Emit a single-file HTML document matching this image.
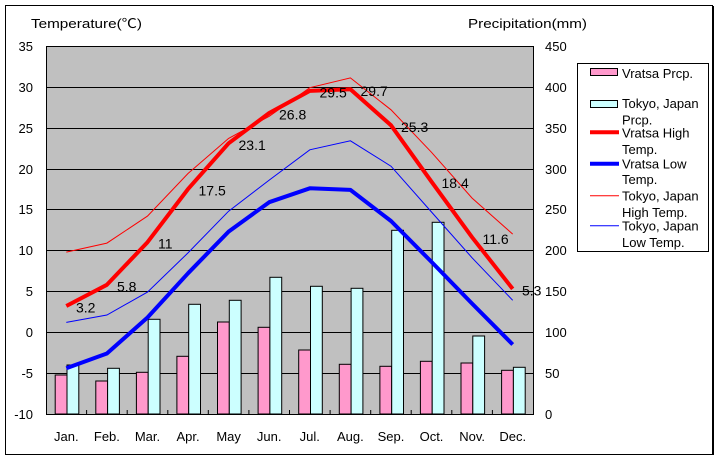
<!DOCTYPE html>
<html>
<head>
<meta charset="utf-8">
<style>
html,body{margin:0;padding:0;background:#fff;}
svg{display:block;}
text{font-family:"Liberation Sans","Noto Sans CJK JP",sans-serif;fill:#000;}
</style>
</head>
<body>
<svg width="720" height="460" viewBox="0 0 720 460" xmlns="http://www.w3.org/2000/svg">
<rect x="0" y="0" width="720" height="460" fill="#fff"/>
<rect x="5.5" y="5.5" width="707" height="449" fill="none" stroke="#000" stroke-width="1"/>
<line x1="713.5" y1="6" x2="713.5" y2="455" stroke="#000" stroke-width="1"/>

<!-- titles -->
<text x="31" y="28" font-size="13" textLength="111" lengthAdjust="spacingAndGlyphs">Temperature(℃)</text>
<text x="468" y="28" font-size="13" textLength="119" lengthAdjust="spacingAndGlyphs">Precipitation(mm)</text>

<!-- plot area -->
<rect x="46.5" y="46.5" width="487" height="368" fill="#C0C0C0" stroke="#000" stroke-width="1"/>
<g stroke="#000" stroke-width="1">
<line x1="46" y1="87.5" x2="533" y2="87.5"/>
<line x1="46" y1="128.5" x2="533" y2="128.5"/>
<line x1="46" y1="169.5" x2="533" y2="169.5"/>
<line x1="46" y1="209.5" x2="533" y2="209.5"/>
<line x1="46" y1="250.5" x2="533" y2="250.5"/>
<line x1="46" y1="291.5" x2="533" y2="291.5"/>
<line x1="46" y1="332.5" x2="533" y2="332.5"/>
<line x1="46" y1="373.5" x2="533" y2="373.5"/>
</g>

<!-- bars -->
<g stroke="#000" stroke-width="1">
<rect x="55.2" y="375" width="11.8" height="39" fill="#FF99CC"/>
<rect x="67" y="365" width="11.8" height="49" fill="#CCFFFF"/>
<rect x="95.8" y="381" width="11.8" height="33" fill="#FF99CC"/>
<rect x="107.6" y="368.3" width="11.8" height="45.7" fill="#CCFFFF"/>
<rect x="136.4" y="372.3" width="11.8" height="41.7" fill="#FF99CC"/>
<rect x="148.2" y="319.3" width="11.8" height="94.7" fill="#CCFFFF"/>
<rect x="176.9" y="356.3" width="11.8" height="57.7" fill="#FF99CC"/>
<rect x="188.7" y="304.3" width="11.8" height="109.7" fill="#CCFFFF"/>
<rect x="217.5" y="322" width="11.8" height="92" fill="#FF99CC"/>
<rect x="229.3" y="300.3" width="11.8" height="113.7" fill="#CCFFFF"/>
<rect x="258.1" y="327.3" width="11.8" height="86.7" fill="#FF99CC"/>
<rect x="269.9" y="277.3" width="11.8" height="136.7" fill="#CCFFFF"/>
<rect x="298.7" y="350" width="11.8" height="64" fill="#FF99CC"/>
<rect x="310.5" y="286.3" width="11.8" height="127.7" fill="#CCFFFF"/>
<rect x="339.3" y="364.3" width="11.8" height="49.7" fill="#FF99CC"/>
<rect x="351.1" y="288.3" width="11.8" height="125.7" fill="#CCFFFF"/>
<rect x="379.9" y="366.3" width="11.8" height="47.7" fill="#FF99CC"/>
<rect x="391.7" y="230.3" width="11.8" height="183.7" fill="#CCFFFF"/>
<rect x="420.4" y="361.3" width="11.8" height="52.7" fill="#FF99CC"/>
<rect x="432.2" y="222.3" width="11.8" height="191.7" fill="#CCFFFF"/>
<rect x="461" y="363" width="11.8" height="51" fill="#FF99CC"/>
<rect x="472.8" y="336" width="11.8" height="78" fill="#CCFFFF"/>
<rect x="501.6" y="370.3" width="11.8" height="43.7" fill="#FF99CC"/>
<rect x="513.4" y="367.3" width="11.8" height="46.7" fill="#CCFFFF"/>
</g>

<!-- bottom axis ticks -->
<g stroke="#000" stroke-width="1">
<line x1="86.6" y1="410" x2="86.6" y2="414"/>
<line x1="127.2" y1="410" x2="127.2" y2="414"/>
<line x1="167.8" y1="410" x2="167.8" y2="414"/>
<line x1="208.3" y1="410" x2="208.3" y2="414"/>
<line x1="248.9" y1="410" x2="248.9" y2="414"/>
<line x1="289.5" y1="410" x2="289.5" y2="414"/>
<line x1="330.1" y1="410" x2="330.1" y2="414"/>
<line x1="370.7" y1="410" x2="370.7" y2="414"/>
<line x1="411.2" y1="410" x2="411.2" y2="414"/>
<line x1="451.8" y1="410" x2="451.8" y2="414"/>
<line x1="492.4" y1="410" x2="492.4" y2="414"/>
</g>
<line x1="46" y1="414.5" x2="533" y2="414.5" stroke="#000" stroke-width="1"/>

<!-- lines -->
<polyline fill="none" stroke="#FF0000" stroke-width="4" stroke-linejoin="round" points="66.3,306.0 106.9,284.8 147.5,242.2 188.0,189.1 228.6,143.3 269.2,113.0 309.8,90.9 350.4,89.3 391.0,125.3 431.5,181.7 472.1,237.3 512.7,288.9"/>
<polyline fill="none" stroke="#0000FF" stroke-width="4" stroke-linejoin="round" points="66.3,368.2 106.9,353.5 147.5,317.5 188.0,273.3 228.6,231.6 269.2,202.2 309.8,188.3 350.4,189.9 391.0,221.0 431.5,261.9 472.1,303.6 512.7,344.5"/>
<polyline fill="none" stroke="#FF0000" stroke-width="1" points="66.3,252.1 106.9,243.1 147.5,216.1 188.0,173.5 228.6,138.4 269.2,116.3 309.8,87.7 350.4,77.9 391.0,109.8 431.5,152.3 472.1,198.1 512.7,234.1"/>
<polyline fill="none" stroke="#0000FF" stroke-width="1" points="66.3,322.4 106.9,315.0 147.5,292.1 188.0,252.9 228.6,211.2 269.2,180.1 309.8,149.8 350.4,140.8 391.0,166.2 431.5,212.0 472.1,257.8 512.7,300.3"/>

<!-- data labels -->
<g font-size="14">
<text x="76" y="312.5">3.2</text>
<text x="117" y="291.3">5.8</text>
<text x="158" y="248.7">11</text>
<text x="198.5" y="195.6">17.5</text>
<text x="238.5" y="149.8">23.1</text>
<text x="279" y="119.5">26.8</text>
<text x="319.5" y="97.4">29.5</text>
<text x="360.5" y="95.8">29.7</text>
<text x="401" y="131.8">25.3</text>
<text x="441.5" y="188.2">18.4</text>
<text x="482.5" y="243.8">11.6</text>
<text x="522" y="295.4">5.3</text>
</g>

<!-- left axis labels -->
<g font-size="13" text-anchor="end">
<text x="33" y="51">35</text>
<text x="33" y="92">30</text>
<text x="33" y="133">25</text>
<text x="33" y="174">20</text>
<text x="33" y="214">15</text>
<text x="33" y="255">10</text>
<text x="33" y="296">5</text>
<text x="33" y="337">0</text>
<text x="33" y="378">-5</text>
<text x="33" y="419">-10</text>
</g>

<!-- right axis labels -->
<g font-size="13">
<text x="545" y="51">450</text>
<text x="545" y="92">400</text>
<text x="545" y="133">350</text>
<text x="545" y="174">300</text>
<text x="545" y="214">250</text>
<text x="545" y="255">200</text>
<text x="545" y="296">150</text>
<text x="545" y="337">100</text>
<text x="545" y="378">50</text>
<text x="545" y="419">0</text>
</g>

<!-- category labels -->
<g font-size="13" text-anchor="middle">
<text x="66.3" y="441">Jan.</text>
<text x="106.9" y="441">Feb.</text>
<text x="147.5" y="441">Mar.</text>
<text x="188.0" y="441">Apr.</text>
<text x="228.6" y="441">May</text>
<text x="269.2" y="441">Jun.</text>
<text x="309.8" y="441">Jul.</text>
<text x="350.4" y="441">Aug.</text>
<text x="391.0" y="441">Sep.</text>
<text x="431.5" y="441">Oct.</text>
<text x="472.1" y="441">Nov.</text>
<text x="512.7" y="441">Dec.</text>
</g>

<!-- legend -->
<rect x="577.5" y="63.5" width="131" height="188" fill="#fff" stroke="#000" stroke-width="1"/>
<rect x="590.5" y="68.5" width="27" height="7" fill="#FF99CC" stroke="#000" stroke-width="1"/>
<rect x="590.5" y="100.5" width="27" height="7" fill="#CCFFFF" stroke="#000" stroke-width="1"/>
<line x1="590" y1="132.3" x2="619" y2="132.3" stroke="#FF0000" stroke-width="4"/>
<line x1="590" y1="163.7" x2="619" y2="163.7" stroke="#0000FF" stroke-width="4"/>
<line x1="590" y1="195.7" x2="619" y2="195.7" stroke="#FF0000" stroke-width="1"/>
<line x1="590" y1="225.7" x2="619" y2="225.7" stroke="#0000FF" stroke-width="1"/>
<g font-size="13">
<text x="622" y="78">Vratsa Prcp.</text>
<text x="622" y="108">Tokyo, Japan</text>
<text x="622" y="124.5">Prcp.</text>
<text x="622" y="137.5">Vratsa High</text>
<text x="622" y="154">Temp.</text>
<text x="622" y="168.5">Vratsa Low</text>
<text x="622" y="184">Temp.</text>
<text x="622" y="200.5">Tokyo, Japan</text>
<text x="622" y="217">High Temp.</text>
<text x="622" y="230.5">Tokyo, Japan</text>
<text x="622" y="247">Low Temp.</text>
</g>
</svg>
</body>
</html>
